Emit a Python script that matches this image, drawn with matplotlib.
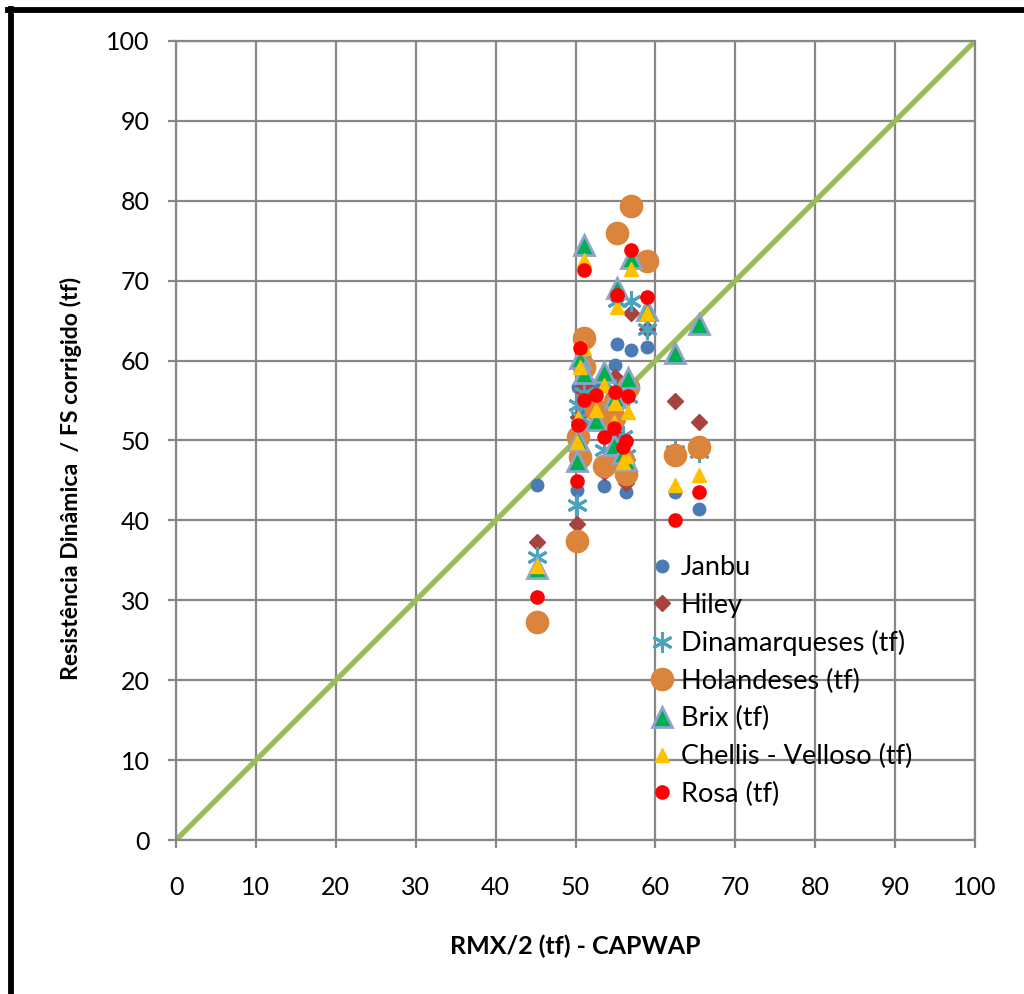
import matplotlib
matplotlib.use("Agg")
import matplotlib.pyplot as plt
from matplotlib.lines import Line2D

# RMX/2 from CAPWAP, one value per pile
rmx_half = [45.2, 50.2, 50.3, 50.6, 51.0, 51.1, 52.5, 53.5, 54.8, 55.0,
            55.2, 55.9, 56.3, 56.6, 57.0, 59.0, 62.4, 65.5]

# corrected dynamic resistance / FS for each formula
janbu = [44.4, 43.8, 56.7, 59.7, 60.5, 54.0, 56.9, 44.3, 55.0, 59.4,
         62.1, 48.5, 43.6, 57.0, 61.3, 61.7, 43.6, 41.4]
hiley = [37.3, 39.5, 53.0, 52.0, 57.0, 56.1, 54.5, 46.0, 51.0, 58.0,
         67.8, 47.5, 44.7, 57.5, 65.9, 64.0, 55.0, 52.3]
dinamarqueses = [35.4, 41.9, 54.4, 53.0, 58.0, 56.0, 52.5, 48.8, 53.0, 56.5,
                 67.5, 50.5, 48.2, 55.5, 67.5, 64.0, 48.7, 48.5]
holandeses = [27.3, 37.4, 50.4, 47.9, 62.8, 59.2, 53.8, 46.8, 52.8, 55.0,
              76.0, 47.5, 45.8, 56.7, 79.4, 72.4, 48.2, 49.2]
brix = [34.0, 47.4, 50.1, 60.3, 74.5, 58.5, 52.6, 58.6, 49.4, 55.5,
        69.1, 48.4, 47.6, 57.8, 72.8, 66.3, 60.9, 64.6]
chellis = [34.3, 49.8, 52.8, 59.2, 72.6, 61.6, 53.8, 57.0, 52.3, 54.7,
           66.7, 47.3, 48.0, 53.6, 71.5, 66.0, 44.4, 45.7]
rosa = [30.4, 44.9, 51.9, 61.6, 71.3, 55.1, 55.7, 50.4, 51.6, 56.1,
        68.2, 49.2, 49.9, 55.6, 73.8, 68.0, 40.0, 43.5]

ticks = list(range(0, 101, 10))

plt.rcParams["font.family"] = ["Lato", "DejaVu Sans"]

fig = plt.figure(figsize=(10.24, 9.94), dpi=100)
ax = fig.add_axes([0.1719, 0.1549, 0.7803, 0.8039])

grey = "#878787"
ax.set_xlim(0, 100)
ax.set_ylim(0, 100)
ax.set_xticks(ticks)
ax.set_yticks(ticks)
ax.grid(True, color=grey, linewidth=1.6, zorder=0)
ax.set_axisbelow(True)
for s in ax.spines.values():
    s.set_color(grey)
    s.set_linewidth(1.6)
ax.tick_params(direction="out", length=6, width=1.6, color=grey,
               labelsize=18, labelcolor="black")
ax.tick_params(axis="x", pad=20)
ax.tick_params(axis="y", pad=13)

# 1:1 reference line
ax.plot([0, 100], [0, 100], color="#9BBB59", linewidth=3.8, zorder=2)

series = [
    ("Janbu", janbu, dict(marker="o", ms=9, mfc="#4A7BB5", mec="#4A7BB5")),
    ("Hiley", hiley, dict(marker="D", ms=8.5, mfc="#A8423F", mec="#A8423F")),
    ("Dinamarqueses (tf)", dinamarqueses,
     dict(marker=(6, 2, 0), ms=15, mec="#4BA3BD", mew=2.2)),
    ("Holandeses (tf)", holandeses,
     dict(marker="o", ms=16, mfc="#DA843C", mec="#DA843C")),
    ("Brix (tf)", brix, dict(marker="^", ms=15, mfc="#00B050",
                             mec="#8EA3CB", mew=2.0)),
    ("Chellis - Velloso (tf)", chellis,
     dict(marker="^", ms=9.5, mfc="#FFC000", mec="#FFC000")),
    ("Rosa (tf)", rosa, dict(marker="o", ms=9.5, mfc="#FF0000", mec="#FF0000")),
]

for i, (name, ys, style) in enumerate(series):
    ax.plot(rmx_half, ys, linestyle="none", label=name, zorder=3 + i, **style)

ax.legend(loc="upper left", bbox_to_anchor=(0.569, 0.380), frameon=False,
          fontsize=19.5, handlelength=0.9, handletextpad=0.25,
          labelspacing=0.46, borderpad=0.2)

ax.set_xlabel("RMX/2 (tf) - CAPWAP", fontsize=18, fontweight="bold")
ax.xaxis.set_label_coords(0.5, -0.118)
ax.set_ylabel("Resistência Dinâmica  / FS corrigido (tf)", fontsize=16.6,
              fontweight="bold")
ax.yaxis.set_label_coords(-0.118, 0.453)

# frame on the left and top of the chart area
fig.add_artist(Line2D([0.0103, 0.0103], [0.0, 0.9905], color="black",
                      linewidth=4.2, transform=fig.transFigure))
fig.add_artist(Line2D([0.0078, 1.0], [0.9895, 0.9895], color="black",
                      linewidth=4.2, transform=fig.transFigure))

fig.savefig("out.png", dpi=100)
